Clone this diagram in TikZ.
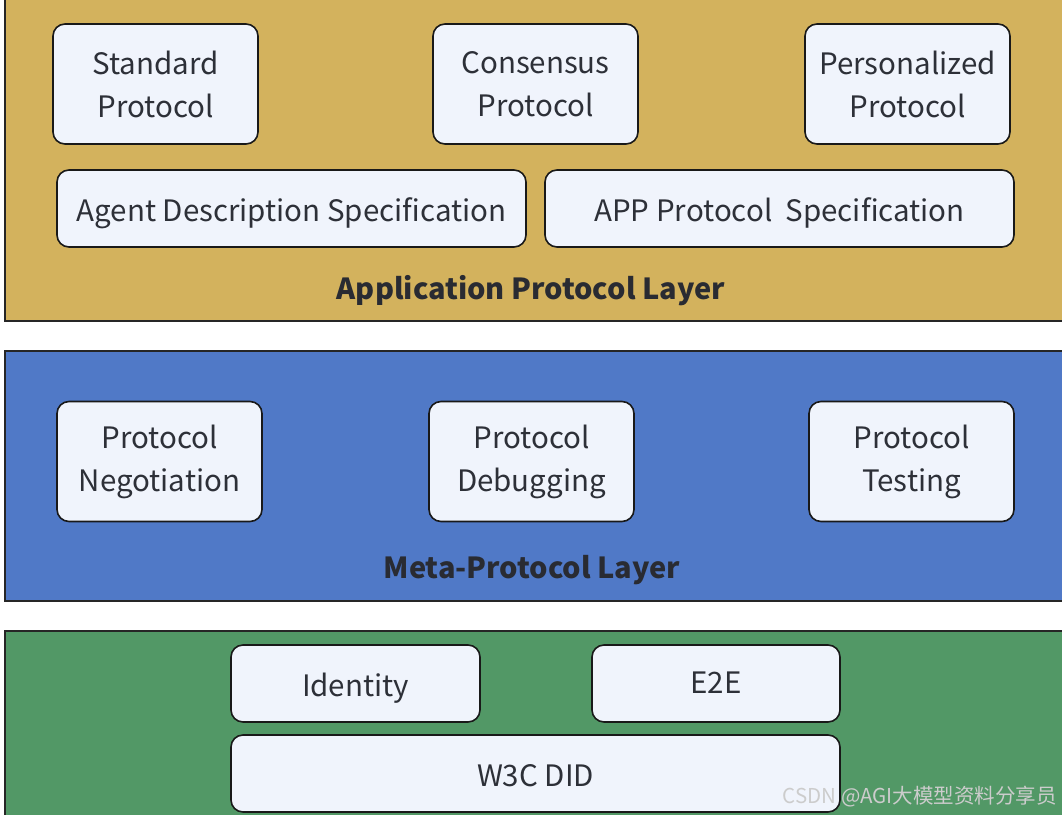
\documentclass[tikz,border=0pt]{standalone}
\usepackage{fontspec}
\setmainfont{Noto Sans CJK SC}
\usetikzlibrary{positioning}

\definecolor{appgold}{RGB}{211,178,93}
\definecolor{metablue}{RGB}{80,121,199}
\definecolor{basegreen}{RGB}{82,152,102}
\definecolor{boxfill}{RGB}{240,244,252}
\definecolor{textdark}{RGB}{45,48,56}

\begin{document}
\begin{tikzpicture}[x=1pt,y=-1pt,
        layer/.style={draw=black!85,line width=1.6pt},
        item/.style={draw=black!90,line width=1.6pt,fill=boxfill,rounded corners=12pt,
            text=textdark,align=center,font=\fontsize{29.5}{43}\selectfont,inner sep=0pt},
        smallitem/.style={item,minimum width=205pt,minimum height=120pt},
        wideitem/.style={item,minimum height=77pt,text height=29pt,text depth=4pt},
        title/.style={text=textdark!90!black,font=\fontsize{29}{34}\selectfont\bfseries}]
        \useasboundingbox (0,0) rectangle (1062,814);
        \clip (0,0) rectangle (1062,814);

        % layers
        \draw[layer,fill=appgold] (5,-2) rectangle (1070,321);
        \draw[layer,fill=metablue] (5,351) rectangle (1070,601);
        \draw[layer,fill=basegreen] (5,631) rectangle (1070,830);

        % application protocol layer
        \node[smallitem] (std) at (155.5,84) {Standard\\Protocol};
        \node[smallitem] (cons) at (535.5,84) {Consensus\\Protocol};
        \node[smallitem] (pers) at (907.5,84) {Personalized\\Protocol};
        \node[wideitem,minimum width=469pt] (agent) at (291.5,208.5) {Agent Description Specification};
        \node[wideitem,minimum width=469pt] (appspec) at (779.5,208.5) {APP Protocol~ Specification};
        \node[title] (apptitle) at (531,291) {Application Protocol Layer};

        % meta-protocol layer
        \node[smallitem] (nego) at (159.5,461.5) {Protocol\\Negotiation};
        \node[smallitem] (debug) at (531.5,461.5) {Protocol\\Debugging};
        \node[smallitem] (test) at (911.5,461.5) {Protocol\\Testing};
        \node[title] (metatitle) at (532,570) {Meta-Protocol Layer};

        % identity layer
        \node[wideitem,minimum width=249pt] (ident) at (355.5,683.5) {Identity};
        \node[wideitem,minimum width=248pt,text depth=10pt] (e2e) at (716,683.5) {E2E};
        \node[wideitem,minimum width=609pt] (did) at (535.5,773.5) {W3C DID};

        \node[text=white!80!black,font=\fontsize{20.5}{24}\selectfont,anchor=east,inner sep=0pt] (mark) at (1057,797) {CSDN @AGI大模型资料分享员};
    \end{tikzpicture}
\end{document}
